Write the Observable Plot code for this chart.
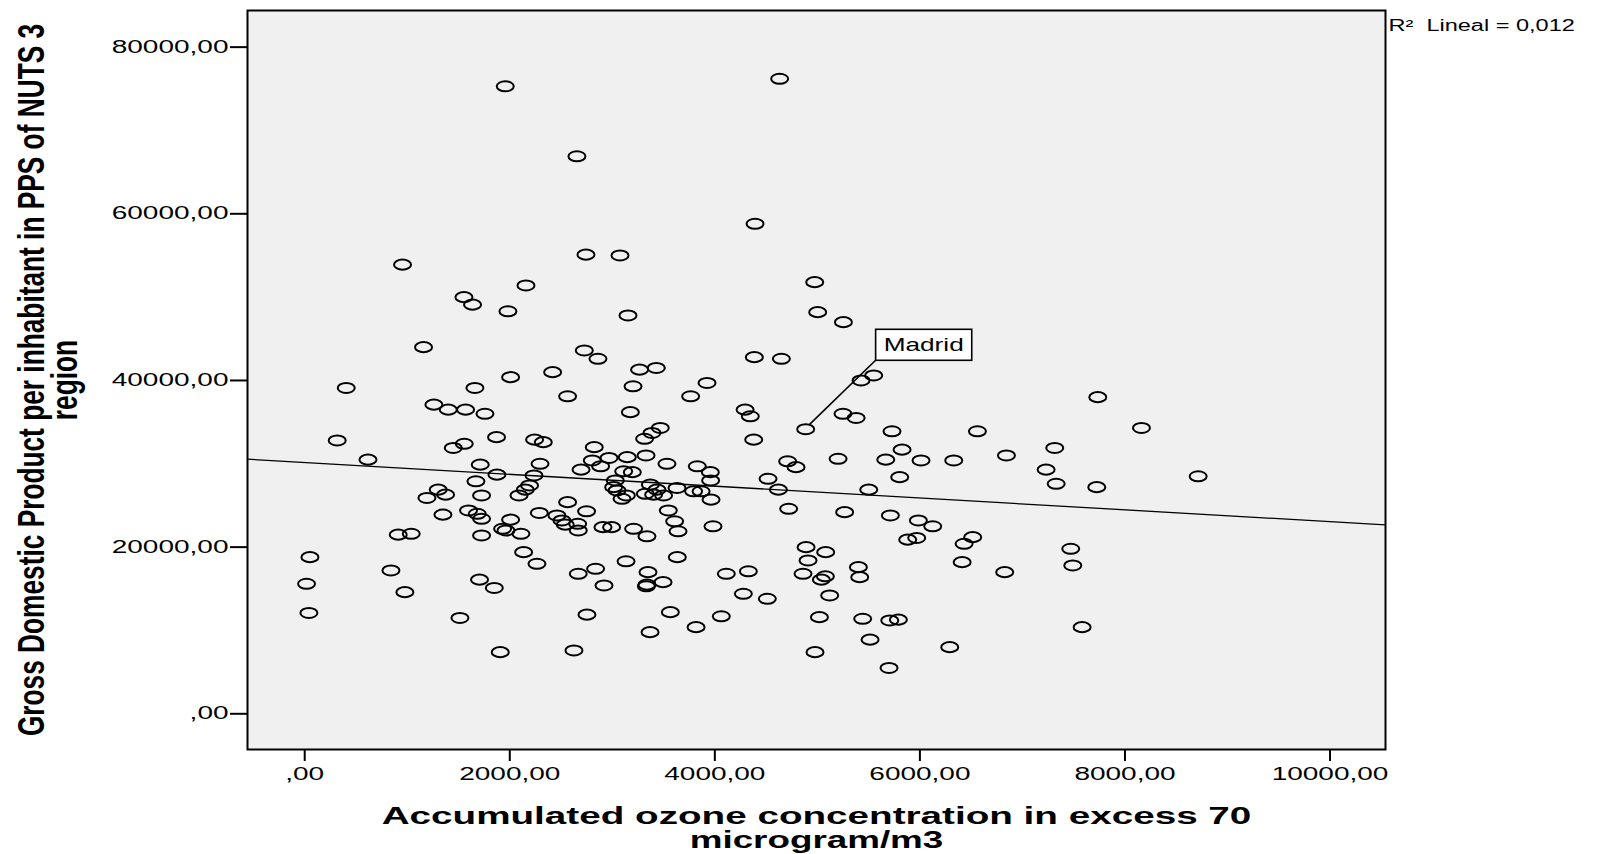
<!DOCTYPE html>
<html>
<head>
<meta charset="utf-8">
<script src="https://cdn.jsdelivr.net/npm/d3@7"></script>
<script src="https://cdn.jsdelivr.net/npm/@observablehq/plot@0.6"></script>
<style>
  html, body { margin: 0; padding: 0; background: #fff; overflow: hidden; }
</style>
</head>
<body>
<div id="chart"></div>
<script>
// ---------- data ----------
// Accumulated ozone concentration in excess of 70 microgram/m3 (x)
const ozone = [
  1956, 2655, 954, 2743, 3075, 2158, 1553, 1637, 1982, 3153,
  1159, 2727, 2860, 2418, 2008, 3266, 3429, 4632, 4392, 4974,
  5003, 5254, 4385, 4649, 3924, 5549, 5426, 405, 1660, 3202,
  1260, 1400, 1569, 1758, 2564, 3176, 317, 617, 1449, 1556,
  1871, 2242, 2327, 1712, 1875, 2295, 2236, 2824, 2968, 3146,
  2805, 2886, 2695, 3111, 1670, 1302, 1374, 1192, 1725, 1348,
  1598, 1683, 1725, 1725, 2090, 2151, 2193, 2008, 1930, 1963,
  2109, 2288, 2460, 2509, 2541, 2564, 2749, 2662, 2668, 2909,
  2993, 3029, 3013, 3046, 3095, 3137, 3195, 3208, 912, 1039,
  51, 18, 41, 841, 977, 1705, 1849, 2135, 2265, 1514,
  1907, 2626, 2753, 2668, 2837, 2919, 3134, 3764, 4295, 4346,
  5250, 5378, 5728, 6561, 4379, 3468, 3387, 3315, 3329, 3533,
  3829, 3956, 3959, 3963, 3371, 3436, 3322, 3403, 3500, 3631,
  3793, 3866, 3546, 3608, 3641, 3982, 3338, 4519, 4620, 4710,
  4792, 4720, 5202, 5501, 5266, 5667, 5826, 5803, 6011, 6330,
  6844, 5712, 5985, 6125, 5881, 5969, 6431, 6515, 6412, 6827,
  3634, 3348, 3338, 3332, 3495, 4112, 4327, 4278, 4512, 3566,
  3368, 3817, 4063, 4890, 5081, 4909, 4860, 5039, 5078, 5120,
  5400, 5413, 5020, 5442, 5706, 5790, 5514, 4977, 5699, 6291,
  7735, 8161, 7315, 7231, 7329, 7725, 8714, 7471, 7491, 7582
];
// Gross Domestic Product per inhabitant in PPS of NUTS 3 region (y)
const gdp = [
  75300, 66900, 53900, 55100, 55000, 51400, 50000, 49100, 48300, 47800,
  44000, 43600, 42600, 41000, 40400, 41300, 41500, 76200, 58800, 51800,
  48200, 47000, 42800, 42600, 39700, 40600, 40000, 39100, 39100, 39300,
  37100, 36500, 36500, 36000, 38100, 36200, 32800, 30500, 31900, 32400,
  33200, 32900, 32600, 29900, 28700, 30000, 28600, 32000, 30700, 30800,
  30400, 29700, 29300, 29100, 27900, 26900, 26300, 25900, 26200, 23900,
  24400, 24000, 23400, 21400, 26200, 26900, 27400, 23300, 22200, 22000,
  21600, 24100, 23800, 23200, 22700, 25400, 24300, 22800, 22000, 22400,
  22400, 28000, 27200, 26800, 25800, 26200, 29000, 22200, 21500, 21600,
  18800, 15600, 12100, 17200, 14600, 16100, 15100, 19400, 18000, 11500,
  7400, 7600, 11900, 16800, 17400, 15400, 18300, 38100, 36500, 35700,
  36000, 35500, 33900, 33900, 32900, 34300, 33700, 33000, 31000, 30000,
  29700, 29000, 28000, 25700, 27500, 26900, 26400, 26300, 26200, 27100,
  26700, 26700, 24400, 23100, 21900, 22500, 21300, 28200, 26900, 30300,
  29600, 24600, 30600, 26900, 24200, 30500, 31700, 28400, 30400, 30400,
  31000, 23800, 23200, 22500, 20900, 21100, 20400, 21200, 18200, 17000,
  18800, 17000, 15500, 15300, 15800, 16800, 17100, 14400, 13800, 12200,
  9800, 10400, 11700, 20000, 19400, 18400, 16800, 16100, 16500, 14200,
  17600, 16400, 11600, 11400, 11200, 11300, 8900, 7400, 5500, 8000,
  38000, 34300, 31900, 29300, 27600, 27200, 28500, 19800, 17800, 10400
];
// labelled region
const labelNames = ["Madrid"];
const labelOzone = [4886];
const labelGdp = [34150];
// linear fit line (ends read at the frame edges)
const fitOzone = [-558, 10541];
const fitGdp = [30552, 22673];
const fitNote = "R\u00b2\u00a0 Lineal = 0,012";
// axes
const xDomain = [-558, 10541];
const yDomain = [-4284, 84396];
const xTicks = [0, 2000, 4000, 6000, 8000, 10000];
const yTicks = [0, 20000, 40000, 60000, 80000];
const xTitle = ["Accumulated ozone concentration in excess 70", "microgram/m3"];
const yTitle = ["Gross Domestic Product per inhabitant in PPS of NUTS 3", "region"];

// ---------- build ----------
const points = ozone.map((x, i) => ({ozone: x, gdp: gdp[i]}))
  .concat(labelOzone.map((x, i) => ({ozone: x, gdp: labelGdp[i]})));
const labels = labelNames.map((n, i) => ({name: n, ozone: labelOzone[i], gdp: labelGdp[i]}));
const fit = fitOzone.map((x, i) => ({ozone: x, gdp: fitGdp[i]}));

const ASPECT = 0.59;
const ellipse = {
  draw(ctx, size) {
    const r = Math.sqrt(size / Math.PI);
    const rx = r, ry = r * ASPECT, k = 0.5523;
    ctx.moveTo(rx, 0);
    ctx.bezierCurveTo(rx, k * ry, k * rx, ry, 0, ry);
    ctx.bezierCurveTo(-k * rx, ry, -rx, k * ry, -rx, 0);
    ctx.bezierCurveTo(-rx, -k * ry, -k * rx, -ry, 0, -ry);
    ctx.bezierCurveTo(k * rx, -ry, rx, -k * ry, rx, 0);
    ctx.closePath();
  }
};
const DOT_R = 8.5;

const fmt = d => d === 0 ? ",00" : d.toFixed(2).replace(".", ",");
const FONT = "'Liberation Sans', Arial, Helvetica, sans-serif";

const plot = Plot.plot({
  width: 1620,
  height: 854,
  marginLeft: 247,
  marginRight: 235,
  marginTop: 10,
  marginBottom: 105,
  style: {fontFamily: FONT, background: "#fff", color: "#000", overflow: "visible"},
  x: {domain: xDomain},
  y: {domain: yDomain},
  marks: [
    Plot.frame({fill: "#f0f0f0", stroke: null}),
    Plot.line(fit, {x: "ozone", y: "gdp", stroke: "#000", strokeWidth: 1.3}),
    Plot.dot(points, {x: "ozone", y: "gdp", symbol: ellipse, r: DOT_R, fill: "none", stroke: "#000", strokeWidth: 2}),
    Plot.text(labels, {x: "ozone", y: "gdp", text: "name", dx: 118, dy: -84, fontSize: 19,
      textAnchor: "middle", lineAnchor: "middle", fill: "#000", ariaDescription: "point-label"}),
    Plot.frame({stroke: "#000", strokeWidth: 2}),
    Plot.axisX({ticks: xTicks, tickFormat: fmt, tickSize: 12, tickPadding: 6, strokeWidth: 2,
      fontSize: 17.5, label: null}),
    Plot.axisY({ticks: yTicks, tickFormat: fmt, tickSize: 17, tickPadding: 2, strokeWidth: 2,
      fontSize: 17.5, label: null}),
    Plot.text([fitNote], {text: d => d, frameAnchor: "top-right", textAnchor: "start", lineAnchor: "middle",
      dx: 3, dy: 15, fontSize: 16, ariaDescription: "fit-note"}),
    Plot.text([xTitle[0]], {text: d => d, frameAnchor: "bottom", textAnchor: "middle", lineAnchor: "middle", dy: 67,
      fontSize: 23, fontWeight: "bold", ariaDescription: "x-title"}),
    Plot.text([xTitle[1]], {text: d => d, frameAnchor: "bottom", textAnchor: "middle", lineAnchor: "middle", dy: 91,
      fontSize: 23, fontWeight: "bold", ariaDescription: "x-title-2"}),
    Plot.text([yTitle[0]], {text: d => d, frameAnchor: "left", rotate: -90, textAnchor: "middle", lineAnchor: "middle",
      dx: -215.5, fontSize: 36, fontWeight: "bold", ariaDescription: "y-title"}),
    Plot.text([yTitle[1]], {text: d => d, frameAnchor: "left", rotate: -90, textAnchor: "middle", lineAnchor: "middle",
      dx: -182.5, fontSize: 36, fontWeight: "bold", ariaDescription: "y-title"})
  ]
});

document.getElementById("chart").append(plot);
const svg = plot;

// horizontal stretch of the texts (the reference image is widened)
function stretch(sel, f) {
  svg.querySelectorAll(sel).forEach(t => {
    const L = t.getComputedTextLength();
    t.setAttribute("textLength", (L * f).toFixed(1));
    t.setAttribute("lengthAdjust", "spacingAndGlyphs");
  });
}
stretch('g[aria-label="x-axis tick label"] text', 1.6);
stretch('g[aria-label="y-axis tick label"] text', 1.6);
stretch('g[aria-description="x-title"] text', 1.68);
stretch('g[aria-description="x-title-2"] text', 1.6);
stretch('g[aria-description="fit-note"] text', 1.47);
stretch('g[aria-description="point-label"] text', 1.38);
// the rotated title is condensed along its own direction
svg.querySelectorAll('g[aria-description="y-title"] text').forEach(t => {
  t.setAttribute("transform", (t.getAttribute("transform") || "") + " scale(0.73,1)");
});

// box around the point label and leader line to the point
const NS = "http://www.w3.org/2000/svg";
const sx = plot.scale("x"), sy = plot.scale("y");
svg.querySelectorAll('g[aria-description="point-label"] text').forEach((t, i) => {
  const bb = t.getBBox();
  const rect = document.createElementNS(NS, "rect");
  rect.setAttribute("x", bb.x - 8);
  rect.setAttribute("y", bb.y - 5);
  rect.setAttribute("width", bb.width + 16);
  rect.setAttribute("height", bb.height + 10);
  rect.setAttribute("fill", "#fff");
  rect.setAttribute("stroke", "#000");
  rect.setAttribute("stroke-width", 1.6);
  if (t.getAttribute("transform")) rect.setAttribute("transform", t.getAttribute("transform"));
  t.parentNode.insertBefore(rect, t);
  const sb = svg.getBoundingClientRect();
  const rb = rect.getBoundingClientRect();
  const cx = rb.left - sb.left, cy = rb.bottom - sb.top;
  const px = sx.apply(labels[i].ozone), py = sy.apply(labels[i].gdp);
  const vx = cx - px, vy = cy - py;
  const s = 1 / Math.hypot(vx / DOT_R, vy / (DOT_R * ASPECT));
  const line = document.createElementNS(NS, "line");
  line.setAttribute("x1", px + vx * s);
  line.setAttribute("y1", py + vy * s);
  line.setAttribute("x2", cx);
  line.setAttribute("y2", cy);
  line.setAttribute("stroke", "#000");
  line.setAttribute("stroke-width", 1.6);
  t.parentNode.parentNode.insertBefore(line, t.parentNode);
});
</script>
</body>
</html>
